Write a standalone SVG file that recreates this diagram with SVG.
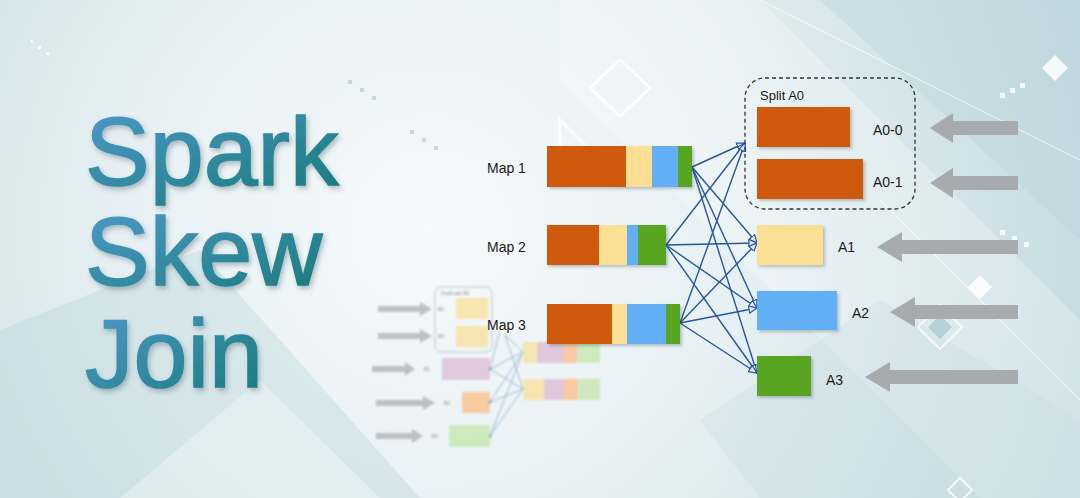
<svg xmlns="http://www.w3.org/2000/svg" width="1080" height="498" viewBox="0 0 1080 498">
<defs>
<radialGradient id="bg" cx="430" cy="230" r="700" gradientUnits="userSpaceOnUse">
<stop offset="0" stop-color="#f6fafb"/>
<stop offset="0.45" stop-color="#e6f0f3"/>
<stop offset="1" stop-color="#c2d9e0"/>
</radialGradient>
<linearGradient id="title" x1="0" y1="0" x2="1" y2="1">
<stop offset="0" stop-color="#4f9acb"/>
<stop offset="1" stop-color="#167a78"/>
</linearGradient>
<filter id="ts" x="-10%" y="-10%" width="130%" height="130%">
<feDropShadow dx="2" dy="3" stdDeviation="2.5" flood-color="#35515a" flood-opacity="0.35"/>
</filter>
<filter id="bs" x="-10%" y="-20%" width="130%" height="150%">
<feDropShadow dx="2" dy="2" stdDeviation="1.5" flood-color="#3a4a50" flood-opacity="0.3"/>
</filter>
<filter id="blur" x="-5%" y="-5%" width="110%" height="110%">
<feGaussianBlur stdDeviation="0.8"/>
</filter>
<marker id="ah" viewBox="0 0 10 10" refX="9.5" refY="5" markerWidth="9" markerHeight="9" orient="auto" markerUnits="userSpaceOnUse">
<path d="M0.5,1 L9.5,5 L0.5,9 Z" fill="#dfe9f3" stroke="#25569e" stroke-width="1.3"/>
</marker>
</defs>
<style>
.lbl{font-family:"Liberation Sans",Arial,sans-serif;font-size:14px;fill:#1a1a1a}
.ttl{font-family:"Liberation Sans",Arial,sans-serif;font-size:97px;fill:url(#title);stroke:url(#title);stroke-width:1.6}
.or{fill:#cf5a0e}.ye{fill:#fbdf94}.bl{fill:#62aff5}.gr{fill:#59a523}
.conn{stroke:#25569e;stroke-width:1.4;fill:none;marker-end:url(#ah)}
.garrow{fill:#a7abad}
.deco{fill:none;stroke:#ffffff;stroke-width:3;opacity:0.8}
.sm{font-family:"Liberation Sans",Arial,sans-serif;font-size:5px;fill:#666}
</style>

<!-- background -->
<rect width="1080" height="498" fill="url(#bg)"/>
<g id="background-deco">
<polygon points="560,0 760,0 1080,320 1080,498 980,498 560,80" fill="#ffffff" opacity="0.25"/>
<polygon points="820,0 1080,0 1080,240" fill="#b8d2da" opacity="0.35"/>
<polygon points="0,330 200,250 420,498 0,498" fill="#b5d0d8" opacity="0.35"/>
<polygon points="120,498 260,380 380,498" fill="#ffffff" opacity="0.3"/>
<polygon points="700,420 880,300 1080,420 1080,498 760,498" fill="#c9dde3" opacity="0.35"/>
<polygon points="620,60 650,88 620,116 590,88" class="deco"/>
<polygon points="585,150 600,165 585,180 570,165" fill="#c2d6d8" opacity="0.6"/>
<polygon points="560,120 590,150 560,180" class="deco" opacity="0.5"/>
<polygon points="1055,55 1068,68 1055,81 1042,68" fill="#ffffff" opacity="0.85"/>
<polygon points="980,275 992,287 980,299 968,287" fill="#ffffff" opacity="0.85"/>
<polygon points="940,305 962,327 940,349 918,327" fill="none" stroke="#ffffff" stroke-width="2" opacity="0.7"/>
<polygon points="940,315 952,327 940,339 928,327" fill="#9cc0cb" opacity="0.6"/>
<polygon points="960,478 972,490 960,502 948,490" fill="none" stroke="#ffffff" stroke-width="2" opacity="0.8"/>
<line x1="880" y1="200" x2="1080" y2="400" stroke="#ffffff" stroke-width="1.5" opacity="0.6"/>
<line x1="760" y1="0" x2="1080" y2="160" stroke="#ffffff" stroke-width="1.5" opacity="0.5"/>
<g fill="#ffffff" opacity="0.8">
<rect x="1000" y="230" width="5" height="5"/><rect x="1012" y="236" width="5" height="5"/><rect x="1024" y="242" width="5" height="5"/>
<rect x="1000" y="93" width="5" height="5"/><rect x="1010" y="88" width="5" height="5"/><rect x="1020" y="83" width="5" height="5"/>
<rect x="30" y="40" width="3" height="3"/><rect x="38" y="46" width="3" height="3"/><rect x="46" y="52" width="3" height="3"/>
</g>
<g fill="#bcd2d6" opacity="0.8">
<rect x="348" y="80" width="4" height="4"/><rect x="360" y="88" width="4" height="4"/><rect x="372" y="96" width="4" height="4"/>
<rect x="410" y="130" width="4" height="4"/><rect x="422" y="138" width="4" height="4"/><rect x="434" y="146" width="4" height="4"/>
</g>
</g>

<!-- title -->
<g id="title" filter="url(#ts)">
<text class="ttl" x="85" y="185">Spark</text>
<text class="ttl" x="85" y="285">Skew</text>
<text class="ttl" x="85" y="387">Join</text>
</g>

<!-- faded small diagram -->
<g id="small-diagram" opacity="0.7" filter="url(#blur)">
<rect x="435" y="287" width="57" height="65" rx="6" fill="none" stroke="#aaaaaa" stroke-width="1"/>
<text class="sm" x="441" y="295">Duplicate B0</text>
<rect x="456" y="298" width="32" height="21" fill="#fbdf94"/>
<rect x="456" y="326" width="32" height="21" fill="#fbdf94"/>
<text class="sm" x="438" y="311">B0</text>
<text class="sm" x="438" y="338">B0</text>
<rect x="442" y="358" width="48" height="22" fill="#dcb5d2"/>
<text class="sm" x="424" y="371">B1</text>
<rect x="462" y="392" width="28" height="21" fill="#fdba80"/>
<text class="sm" x="444" y="405">B2</text>
<rect x="449" y="425" width="41" height="22" fill="#c4e6a8"/>
<text class="sm" x="432" y="438">B3</text>
<g class="garrow">
<polygon points="378,306 420,306 420,302 432,309 420,316 420,312 378,312"/>
<polygon points="378,333 420,333 420,329 432,336 420,343 420,339 378,339"/>
<polygon points="372,366 405,366 405,362 415,369 405,376 405,372 372,372"/>
<polygon points="376,400 423,400 423,396 435,403 423,410 423,406 376,406"/>
<polygon points="376,433 412,433 412,429 423,436 412,443 412,439 376,439"/>
</g>
<rect x="523" y="342" width="14" height="21" fill="#fbdf94"/>
<rect x="537" y="342" width="26" height="21" fill="#dcb5d2"/>
<rect x="563" y="342" width="14" height="21" fill="#fdba80"/>
<rect x="577" y="342" width="23" height="21" fill="#c4e6a8"/>
<rect x="523" y="379" width="21" height="21" fill="#fbdf94"/>
<rect x="544" y="379" width="19" height="21" fill="#dcb5d2"/>
<rect x="563" y="379" width="15" height="21" fill="#fdba80"/>
<rect x="578" y="379" width="22" height="21" fill="#c4e6a8"/>
<g stroke="#5a86b8" stroke-width="0.8" fill="none">
<path d="M490,369 L523,352 M490,369 L523,389 M490,402 L523,352 M490,402 L523,389 M490,436 L523,352 M490,436 L523,389"/>
<path d="M505,335 L523,352 M505,335 L523,389 M500,330 L490,369"/>
</g>
<g fill="#4a7bb5"><circle cx="490" cy="369" r="1.6"/><circle cx="490" cy="402" r="1.6"/><circle cx="490" cy="436" r="1.6"/></g>
</g>

<!-- connectors -->
<g id="connectors">
<path class="conn" d="M692,167 L745,143"/>
<path class="conn" d="M692,167 L757,243"/>
<path class="conn" d="M692,167 L757,308"/>
<path class="conn" d="M692,167 L757,373"/>
<path class="conn" d="M666,245 L745,143"/>
<path class="conn" d="M666,245 L757,243"/>
<path class="conn" d="M666,245 L757,308"/>
<path class="conn" d="M666,245 L757,373"/>
<path class="conn" d="M680,323 L745,143"/>
<path class="conn" d="M680,323 L757,243"/>
<path class="conn" d="M680,323 L757,308"/>
<path class="conn" d="M680,323 L757,373"/>
</g>

<!-- maps -->
<g id="map1">
<text class="lbl" x="487" y="173">Map 1</text>
<g filter="url(#bs)">
<rect class="or" x="547" y="146" width="79" height="41"/>
<rect class="ye" x="626" y="146" width="26" height="41"/>
<rect class="bl" x="652" y="146" width="26" height="41"/>
<rect class="gr" x="678" y="146" width="14" height="41"/>
</g>
</g>
<g id="map2">
<text class="lbl" x="487" y="252">Map 2</text>
<g filter="url(#bs)">
<rect class="or" x="547" y="225" width="52" height="40"/>
<rect class="ye" x="599" y="225" width="28" height="40"/>
<rect class="bl" x="627" y="225" width="11" height="40"/>
<rect class="gr" x="638" y="225" width="28" height="40"/>
</g>
</g>
<g id="map3">
<text class="lbl" x="487" y="330">Map 3</text>
<g filter="url(#bs)">
<rect class="or" x="547" y="304" width="65" height="40"/>
<rect class="ye" x="612" y="304" width="15" height="40"/>
<rect class="bl" x="627" y="304" width="39" height="40"/>
<rect class="gr" x="666" y="304" width="14" height="40"/>
</g>
</g>

<!-- split A0 -->
<g id="splitA0">
<rect x="745" y="78" width="170" height="131" rx="20" fill="none" stroke="#333333" stroke-width="1.3" stroke-dasharray="4,3"/>
<text class="lbl" x="760" y="100" style="font-size:13px">Split A0</text>
</g>
<g id="A0-0">
<rect class="or" x="757" y="107" width="93" height="40" filter="url(#bs)"/>
<text class="lbl" x="873" y="135">A0-0</text>
</g>
<g id="A0-1">
<rect class="or" x="757" y="159" width="106" height="40" filter="url(#bs)"/>
<text class="lbl" x="873" y="187">A0-1</text>
</g>
<g id="A1">
<rect class="ye" x="757" y="225" width="66" height="40" filter="url(#bs)"/>
<text class="lbl" x="838" y="252">A1</text>
</g>
<g id="A2">
<rect class="bl" x="757" y="291" width="80" height="39" filter="url(#bs)"/>
<text class="lbl" x="852" y="318">A2</text>
</g>
<g id="A3">
<rect class="gr" x="757" y="356" width="54" height="40" filter="url(#bs)"/>
<text class="lbl" x="826" y="385">A3</text>
</g>

<!-- gray arrows -->
<g id="gray-arrows" class="garrow">
<polygon points="1018,121 953,121 953,113 930,128 953,143 953,135 1018,135"/>
<polygon points="1018,176 953,176 953,168 930,183 953,198 953,190 1018,190"/>
<polygon points="1018,240 902,240 902,232 877,247 902,262 902,254 1018,254"/>
<polygon points="1018,305 915,305 915,297 890,312 915,327 915,319 1018,319"/>
<polygon points="1018,370 890,370 890,362 865,377 890,392 890,384 1018,384"/>
</g>
</svg>
